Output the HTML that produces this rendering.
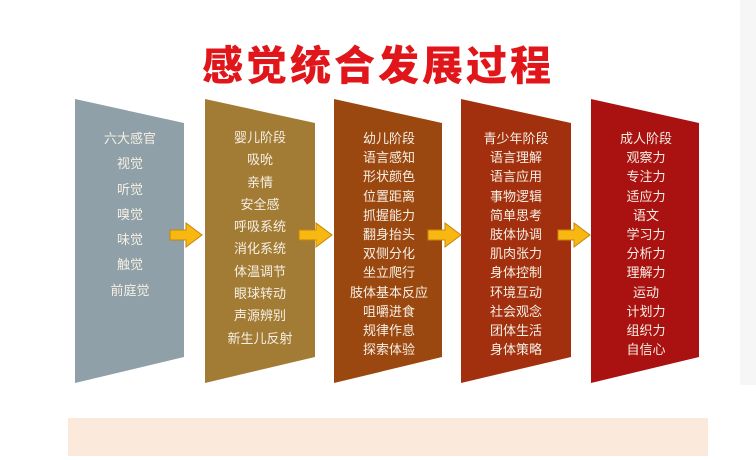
<!DOCTYPE html>
<html><head><meta charset="utf-8"><style>
body{margin:0;width:756px;height:460px;background:#fff;position:relative;overflow:hidden;font-family:"Liberation Sans","Noto Sans CJK SC",sans-serif}
.t{position:absolute;left:198px;top:32px;width:360px;text-align:center;font-size:41px;font-weight:900;color:#e0161b;letter-spacing:3px;white-space:nowrap;font-family:"Noto Sans CJK SC",sans-serif}
.col{position:absolute;top:128px;width:110px;text-align:center;color:#f6efe4;font-size:13px;line-height:19.2px;font-family:"Noto Sans CJK SC",sans-serif}
</style></head><body>
<div style="position:absolute;left:740px;top:0;width:16px;height:385px;background:#f6f6f6"></div>
<div class="t">感觉统合发展过程</div>
<svg width="756" height="460" style="position:absolute;left:0;top:0">
<polygon points="75,99 184,123 184,357 75,383" fill="#8fa0a8"/>
<polygon points="205,99 315,123 315,357 205,383" fill="#a27c35"/>
<polygon points="334,99 442,123 442,357 334,383" fill="#9b4810"/>
<polygon points="461,99 571,123 571,357 461,383" fill="#a2300f"/>
<polygon points="591,99 699,123 699,357 591,383" fill="#aa1111"/>
<g fill="#f7b812" stroke="#c8830a" stroke-width="1">
<polygon points="170,230 186,230 186,223 202,235 186,247 186,240 170,240"/>
<polygon points="299,230 316,230 316,223 332,235 316,247 316,240 299,240"/>
<polygon points="428,230 445,230 445,223 461,235 445,247 445,240 428,240"/>
<polygon points="558,230 574,230 574,223 590,235 574,247 574,240 558,240"/>
</g>
<rect x="68" y="418" width="640" height="38" fill="#fbeadb"/>
</svg>
<div class="col" style="left:75px;line-height:25.3px;top:125px">六大感官<br>视觉<br>听觉<br>嗅觉<br>味觉<br>触觉<br>前庭觉</div>
<div class="col" style="left:205px;line-height:22.3px;top:126px">婴儿阶段<br>吸吮<br>亲情<br>安全感<br>呼吸系统<br>消化系统<br>体温调节<br>眼球转动<br>声源辨别<br>新生儿反射</div>
<div class="col" style="left:334px">幼儿阶段<br>语言感知<br>形状颜色<br>位置距离<br>抓握能力<br>翻身抬头<br>双侧分化<br>坐立爬行<br>肢体基本反应<br>咀嚼进食<br>规律作息<br>探索体验</div>
<div class="col" style="left:461px">青少年阶段<br>语言理解<br>语言应用<br>事物逻辑<br>简单思考<br>肢体协调<br>肌肉张力<br>身体控制<br>环境互动<br>社会观念<br>团体生活<br>身体策略</div>
<div class="col" style="left:591px">成人阶段<br>观察力<br>专注力<br>适应力<br>语文<br>学习力<br>分析力<br>理解力<br>运动<br>计划力<br>组织力<br>自信心</div>
</body></html>
